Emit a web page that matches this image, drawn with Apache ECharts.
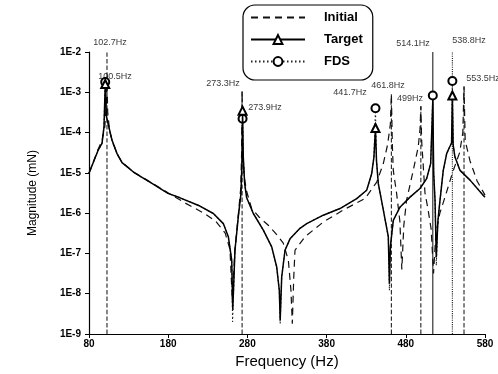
<!DOCTYPE html>
<html><head><meta charset="utf-8">
<script src="https://cdn.jsdelivr.net/npm/echarts@6/dist/echarts.min.js"></script>
<style>html,body{margin:0;padding:0;background:#fff}#c{width:498px;height:374px}</style>
</head><body><div id="c"></div>
<script>
const FONT = '"Liberation Sans", Arial, sans-serif';

// tick labels
const xTicks = [80, 180, 280, 380, 480, 580];
const yTicks = [1e-9, 1e-8, 1e-7, 1e-6, 1e-5, 1e-4, 1e-3, 1e-2];
const yTickLabels = ['1E-9', '1E-8', '1E-7', '1E-6', '1E-5', '1E-4', '1E-3', '1E-2'];

// Initial (dashed)
const initFreq = [80, 91.4, 96.4, 100, 101.8, 102.7, 103.6, 106, 110, 116, 122, 138, 159.5, 179.7, 201, 225, 240, 252, 258, 261, 264, 268.5, 271.5, 272.6, 273.3, 274.1, 276, 279, 285.4, 295, 306.4, 318, 325.3, 331.7, 335, 336.7, 338.5, 340.1, 352.7, 375.8, 401.1, 428.5, 443.3, 451.6, 457, 460.5, 461.8, 463, 464.2, 468.4, 472.5, 475, 477.5, 481, 489.4, 495.7, 498, 499, 500, 504.2, 508, 512, 515, 518, 523, 529.5, 539.6, 548, 552, 553.5, 555, 561, 570, 580];
const initMag = [9.8e-6, 3.8e-5, 6.3e-5, 1.4e-4, 5.0e-4, 2.5e-3, 3.2e-4, 1.1e-4, 5.6e-5, 2.8e-5, 1.8e-5, 1.0e-5, 5.6e-6, 3.2e-6, 1.8e-6, 1.0e-6, 6.3e-7, 3.2e-7, 1.26e-7, 6.3e-9, 1.1e-7, 8.9e-7, 4.0e-6, 2.5e-5, 1.1e-3, 3.2e-5, 7.9e-6, 3.5e-6, 1.3e-6, 7.9e-7, 5.0e-7, 2.8e-7, 1.8e-7, 6.8e-8, 1.2e-8, 1.8e-9, 2.5e-8, 1.2e-7, 2.6e-7, 6.0e-7, 1.2e-6, 2.3e-6, 5.9e-6, 1.7e-5, 5.0e-5, 1.6e-4, 8.9e-4, 5.0e-5, 1.15e-5, 3.1e-6, 6.3e-7, 4.0e-8, 5.0e-7, 2.1e-6, 1.15e-5, 4.4e-5, 1.26e-4, 4.5e-4, 6.3e-5, 3.2e-6, 1.26e-6, 4.0e-7, 3.2e-8, 3.2e-7, 1.0e-6, 2.5e-6, 1.1e-5, 3.2e-5, 1.0e-4, 1.4e-3, 6.3e-5, 2.0e-5, 6.3e-6, 2.8e-6];

// Target (solid, triangles)
const targetFreq = [80, 91.4, 96.4, 98.9, 100.5, 102, 104, 109, 115.4, 121.7, 138, 159.5, 179.7, 195, 220, 237, 249.6, 255.9, 260.2, 261.5, 264.3, 268.5, 271.9, 273.2, 273.9, 274.8, 276.5, 279.1, 287.5, 300.1, 310.7, 317, 320.3, 321.4, 323.3, 327.5, 333.8, 346.4, 354.9, 375.8, 396.9, 418, 430.6, 436.9, 439.8, 441.7, 443, 445.3, 451.6, 457.9, 459.3, 460.5, 464.2, 472.6, 485.3, 497.9, 506.3, 511.4, 514.1, 515.2, 516.9, 518.5, 520.5, 523.2, 527.3, 531.6, 534.9, 537.8, 538.8, 539.8, 542, 548.5, 561.1, 577.9, 580];
const targetMag = [9.8e-6, 3.6e-5, 5.4e-5, 1.35e-4, 1.6e-3, 2.5e-4, 1.7e-4, 6.5e-5, 3.0e-5, 1.8e-5, 9.8e-6, 5.5e-6, 3.1e-6, 2.4e-6, 1.5e-6, 9.8e-7, 5.5e-7, 2.6e-7, 6.8e-8, 4.0e-9, 1.2e-7, 8.1e-7, 3.1e-6, 2.0e-5, 3.5e-4, 2.5e-5, 5.5e-6, 2.4e-6, 9.8e-7, 3.8e-7, 1.45e-7, 4.6e-8, 1.2e-8, 2.2e-9, 2.6e-8, 1.2e-7, 2.3e-7, 4.2e-7, 5.5e-7, 8.9e-7, 1.3e-6, 2.3e-6, 3.7e-6, 9.5e-6, 2.5e-5, 1.3e-4, 2.0e-5, 5.4e-6, 1.2e-6, 2.6e-7, 1.8e-8, 1.45e-7, 6.6e-7, 1.4e-6, 2.5e-6, 4.1e-6, 7.2e-6, 1.7e-5, 6.3e-4, 1.0e-5, 2.1e-6, 7.9e-8, 6.3e-7, 2.1e-6, 1.15e-5, 3.0e-5, 4.2e-5, 5.5e-5, 8.3e-4, 5.0e-5, 2.5e-5, 1.15e-5, 6.6e-6, 2.75e-6, 2.5e-6];
const targetMarkers = [100.5, 273.9, 441.7, 538.8];

// FDS (dotted, circles)
const fdsFreq = [80, 91.4, 96.4, 98.9, 100.5, 102, 104, 109, 115.4, 121.7, 138, 159.5, 179.7, 195, 220, 237, 249.6, 255.9, 260.2, 261.3, 264.3, 268.5, 271.9, 273.2, 273.9, 274.8, 276.5, 279.1, 287.5, 300.1, 310.7, 317, 320.3, 321.4, 323.3, 327.5, 333.8, 346.4, 354.9, 375.8, 396.9, 418, 430.6, 436.9, 439.8, 441.7, 443, 445.3, 451.6, 457.9, 459.3, 460.5, 464.2, 472.6, 485.3, 497.9, 506.3, 511.4, 514.1, 515.2, 516.9, 518.5, 520.5, 523.2, 527.3, 531.6, 534.9, 537.8, 538.8, 539.8, 542, 548.5, 561.1, 577.9, 580];
const fdsMag = [9.8e-6, 3.6e-5, 5.4e-5, 1.4e-4, 1.8e-3, 2.6e-4, 1.7e-4, 6.5e-5, 3.0e-5, 1.8e-5, 9.8e-6, 5.5e-6, 3.1e-6, 2.4e-6, 1.5e-6, 9.8e-7, 5.5e-7, 2.6e-7, 6.8e-8, 2.0e-9, 1.2e-7, 8.1e-7, 3.1e-6, 2.0e-5, 2.2e-4, 2.5e-5, 5.5e-6, 2.4e-6, 9.8e-7, 3.8e-7, 1.45e-7, 4.6e-8, 1.2e-8, 1.8e-9, 2.6e-8, 1.2e-7, 2.3e-7, 4.2e-7, 5.5e-7, 8.9e-7, 1.3e-6, 2.3e-6, 3.7e-6, 9.5e-6, 2.5e-5, 4.0e-4, 2.0e-5, 5.4e-6, 1.2e-6, 2.6e-7, 1.2e-8, 1.45e-7, 6.6e-7, 1.4e-6, 2.5e-6, 4.1e-6, 7.2e-6, 1.7e-5, 8.3e-4, 1.0e-5, 2.1e-6, 5.0e-8, 6.3e-7, 2.1e-6, 1.15e-5, 3.0e-5, 4.2e-5, 5.5e-5, 1.9e-3, 5.0e-5, 2.5e-5, 1.15e-5, 6.6e-6, 2.75e-6, 2.5e-6];
const fdsMarkers = [100.5, 273.9, 441.7, 514.1, 538.8];

// vertical resonance lines
const annFreq = [102.7, 273.3, 461.8, 499, 514.1, 538.8, 553.5];
const annTop = [1e-2, 1.1e-3, 8.9e-4, 4.5e-4, 1e-2, 1e-2, 1.4e-3];
const annType = ['dashed', 'dashed', 'dashed', 'dashed', 'solid', 'dotted', 'dashed'];

// frequency labels (text, anchor frequency, anchor magnitude)
const labelText = ['102.7Hz', '100.5Hz', '273.3Hz', '273.9Hz', '441.7Hz', '461.8Hz', '499Hz', '514.1Hz', '538.8Hz', '553.5Hz'];
const labelFreq = [106.5, 112.8, 249.2, 302.2, 409.5, 457.5, 485.3, 489, 559.8, 577.5];
const labelMag = [1.74e-2, 2.5e-3, 1.66e-3, 4.3e-4, 1.0e-3, 1.5e-3, 7.1e-4, 1.66e-2, 1.95e-2, 2.2e-3];

function build(freq, mag, markers) {
  return freq.map((f, i) => ({ value: [f, mag[i]], symbolSize: markers.indexOf(f) >= 0 ? 8 : 0 }));
}

const series = [];
annFreq.forEach((f, i) => {
  series.push({
    type: 'line', name: 'ann' + i, silent: true, z: 1,
    data: [[f, 1e-9], [f, annTop[i]]],
    symbol: 'none',
    lineStyle: { type: annType[i], color: '#222', width: 1.1 }
  });
});
series.push({
  type: 'line', name: 'Initial', z: 2,
  data: initFreq.map((f, i) => [f, initMag[i]]),
  symbol: 'none',
  lineStyle: { type: [7, 5], color: '#111', width: 1.2 },
  itemStyle: { color: '#111' }
});
series.push({
  type: 'line', name: 'FDS', z: 3,
  data: build(fdsFreq, fdsMag, fdsMarkers),
  symbol: 'emptyCircle', symbolSize: 0, showSymbol: true,
  lineStyle: { type: [1.5, 2.5], color: '#222', width: 1.1 },
  itemStyle: { color: '#000', borderWidth: 1.2 }
});
series.push({
  type: 'line', name: 'Target', z: 4,
  data: build(targetFreq, targetMag, targetMarkers),
  symbol: 'emptyTriangle', symbolSize: 0, showSymbol: true,
  lineStyle: { type: 'solid', color: '#000', width: 1.5 },
  itemStyle: { color: '#000', borderWidth: 1.2 }
});
series.push({
  type: 'scatter', name: 'labels', silent: true, clip: false, z: 5,
  symbolSize: 0,
  data: labelText.map((t, i) => ({ name: t, value: [labelFreq[i], labelMag[i]] })),
  label: { show: true, position: 'inside', formatter: '{b}', fontSize: 9, color: '#000', fontFamily: FONT }
});

const chart = echarts.init(document.getElementById('c'), null, { renderer: 'canvas' });
chart.setOption({
  animation: false,
  backgroundColor: '#fff',
  textStyle: { fontFamily: FONT },
  grid: { left: 89, right: 13, top: 52, bottom: 40 },
  legend: {
    data: [
      { name: 'Initial', itemStyle: { opacity: 0, color: 'rgba(0,0,0,0)', borderWidth: 0 } },
      { name: 'Target' },
      { name: 'FDS' }
    ],
    orient: 'vertical',
    left: 243, top: 5,
    itemWidth: 54, itemHeight: 11, itemGap: 9,
    padding: [6, 10, 12, 7],
    borderColor: '#000', borderWidth: 1.2, borderRadius: 12,
    textStyle: { fontSize: 13, fontWeight: 'bold', color: '#000', fontFamily: FONT, padding: [0, 0, 0, 14] }
  },
  xAxis: {
    type: 'value', min: 80, max: 580, interval: 100,
    name: 'Frequency (Hz)', nameLocation: 'middle', nameGap: 16,
    nameTextStyle: { fontSize: 15, color: '#000', fontFamily: FONT },
    axisLine: { lineStyle: { color: '#000', width: 1.2 } },
    axisTick: { show: true, length: 4, customValues: xTicks, lineStyle: { color: '#000' } },
    axisLabel: { customValues: xTicks, fontSize: 10, fontWeight: 'bold', color: '#000', margin: 5, fontFamily: FONT },
    splitLine: { show: false }
  },
  yAxis: {
    type: 'log', logBase: 10, min: 1e-9, max: 1e-2, interval: 1, splitNumber: 7,
    name: 'Magnitude (mN)', nameLocation: 'middle', nameGap: 50, nameRotate: 90,
    nameTextStyle: { fontSize: 12, color: '#000', fontFamily: FONT },
    axisLine: { show: true, lineStyle: { color: '#000', width: 1.2 } },
    axisTick: { show: true, length: 4, lineStyle: { color: '#000' } },
    axisLabel: {
      fontSize: 10, fontWeight: 'bold', color: '#000', margin: 8, fontFamily: FONT,
      formatter: v => yTickLabels[yTicks.findIndex(t => Math.abs(Math.log10(t) - Math.log10(v)) < 0.01)] || ''
    },
    splitLine: { show: false },
    minorTick: { show: false }
  },
  series: series
});
</script>
</body></html>
